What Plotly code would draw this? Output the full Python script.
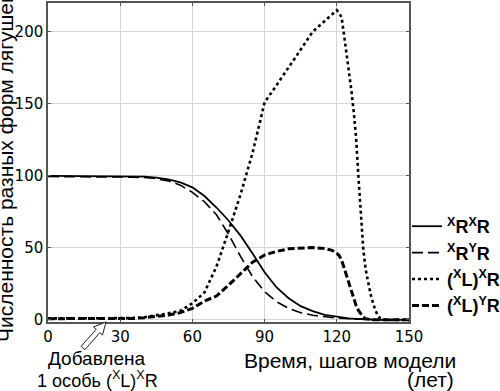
import plotly.graph_objects as go

# ---- data ----
years = [0, 10, 20, 30, 35, 40, 45, 50, 55, 60, 65, 70, 75, 80, 85, 90, 95, 100, 105, 110,
         115, 118, 120, 121, 122, 123, 124, 125, 126, 127, 128, 129, 130, 131, 132, 133,
         134, 135, 136, 137, 138, 139, 140, 145, 150]

xr_xr = [100, 100, 100, 100, 99.8, 99.5, 98.8, 97.5, 95.5, 92, 86, 78, 69, 58.5, 46, 33,
         22.5, 15, 9.5, 6, 3.5, 2.6, 2, 1.8, 1.6, 1.4, 1.2, 1, 0.9, 0.8, 0.6, 0.5, 0.4,
         0.35, 0.3, 0.25, 0.2, 0.15, 0.1, 0.05, 0, 0, 0, 0, 0]

xr_yr = [99.5, 99.5, 99.5, 99.3, 99.1, 98.8, 98, 96.5, 93.5, 88.5, 82, 73, 59.5, 44, 30,
         19.5, 12.5, 8, 5, 3.2, 2, 1.5, 1.2, 1.1, 1, 0.9, 0.8, 0.6, 0.55, 0.5, 0.4, 0.35,
         0.3, 0.25, 0.2, 0.15, 0.1, 0.05, 0, 0, 0, 0, 0, 0, 0]

xl_xr = [1, 1, 1, 1, 1.2, 1.8, 3, 4.5, 6.3, 11.5, 19, 37, 61.5, 87, 116, 151, 163, 175.5,
         188, 200, 207.5, 212, 215, 213, 210, 198, 186, 175, 160, 145, 127, 99, 71, 49,
         35, 25, 18, 12, 6.7, 3.2, 1.2, 0.4, 0, 0, 0]

xl_yr = [0.8, 0.8, 0.8, 0.9, 1, 1.5, 2.3, 3.3, 5, 8, 13, 16.5, 24, 32, 40, 45, 47.5, 49.3,
         50, 50.2, 49.6, 48.3, 46.3, 44.5, 41.5, 36, 30.5, 25, 19.5, 14.5, 10, 6.5, 3.8,
         2, 0.7, 0.3, 0, 0, 0, 0, 0, 0, 0, 0, 0]

series_names = ["<b><sup>X</sup>R<sup>X</sup>R</b>",
                "<b><sup>X</sup>R<sup>Y</sup>R</b>",
                "<b>(<sup>X</sup>L)<sup>X</sup>R</b>",
                "<b>(<sup>X</sup>L)<sup>Y</sup>R</b>"]

x_ticks = [0, 30, 60, 90, 120, 150]
y_ticks = [0, 50, 100, 150, 200]

# ---- styles ----
styles = [dict(width=1.8, dash="solid"),
          dict(width=1.6, dash="11px,5px"),
          dict(width=2.6, dash="3px,3px"),
          dict(width=3.0, dash="7px,3px")]

W, H = 500, 391
ML, MR, MT, MB = 48, 91, 3, 69
PW, PH = W - ML - MR, H - MT - MB

fig = go.Figure()
for name, vals, st in zip(series_names, [xr_xr, xr_yr, xl_xr, xl_yr], styles):
    fig.add_trace(go.Scatter(x=years, y=vals, mode="lines", name=name,
                             line=dict(color="black", width=st["width"], dash=st["dash"])))

def px2paper(px, py):
    return (px - ML) / PW, (H - MB - py) / PH

# hollow arrow (decoration) pointing to the time when the frog was added
arrow_px = [(106, 322), (102.5, 335), (99.9, 332.6), (84.9, 349.7), (81.1, 346.3),
            (96.2, 329.3), (93.5, 327.0)]
pts = [px2paper(a, b) for a, b in arrow_px]
path = "M " + " L ".join(f"{a:.4f},{b:.4f}" for a, b in pts) + " Z"

font_main = "Liberation Sans, Arial, sans-serif"

fig.update_layout(
    width=W, height=H,
    margin=dict(l=ML, r=MR, t=MT, b=MB, autoexpand=False),
    plot_bgcolor="white", paper_bgcolor="white",
    showlegend=True,
    legend=dict(x=(407 - ML) / PW, y=px2paper(0, 208)[1], xanchor="left", yanchor="top",
                font=dict(family=font_main, size=18, color="black"),
                itemwidth=30, bgcolor="rgba(0,0,0,0)", borderwidth=0,
                tracegroupgap=0),
    xaxis=dict(range=[0, 150], tickvals=x_ticks, ticktext=[str(v) for v in x_ticks],
               showgrid=True, gridcolor="#d6d6d6", gridwidth=1,
               showline=True, linecolor="#555555", linewidth=1.5, mirror="ticks",
               ticks="inside", ticklen=3, tickcolor="#555555",
               tickfont=dict(family="DejaVu Sans", size=15, color="black"),
               zeroline=False),
    yaxis=dict(range=[-1.5, 220], tickvals=y_ticks, ticktext=[str(v) for v in y_ticks],
               showgrid=True, gridcolor="#d6d6d6", gridwidth=1,
               showline=True, linecolor="#555555", linewidth=1.5, mirror="ticks",
               ticks="inside", ticklen=3, tickcolor="#555555",
               tickfont=dict(family="DejaVu Sans", size=15, color="black"),
               zeroline=False),
    shapes=[dict(type="path", xref="paper", yref="paper", path=path,
                 line=dict(color="#222222", width=1), fillcolor="white", layer="above")],
)

ax0, ay0 = px2paper(6, 168)
fig.add_annotation(text="Численность разных форм лягушек", xref="paper", yref="paper",
                   x=ax0, y=ay0, xanchor="center", yanchor="middle", textangle=-90,
                   showarrow=False, font=dict(family=font_main, size=21, color="black"))
bx, by = px2paper(96, 358)
fig.add_annotation(text="Добавлена", xref="paper", yref="paper", x=bx, y=by,
                   xanchor="center", yanchor="middle", showarrow=False,
                   font=dict(family=font_main, size=19, color="black"))
cx, cy = px2paper(97, 379)
fig.add_annotation(text="1 особь (<sup>X</sup>L)<sup>X</sup>R", xref="paper", yref="paper",
                   x=cx, y=cy, xanchor="center", yanchor="middle", showarrow=False,
                   font=dict(family=font_main, size=18, color="black"))
dx, dy = px2paper(458, 360)
fig.add_annotation(text="Время, шагов модели", xref="paper", yref="paper", x=dx, y=dy,
                   xanchor="right", yanchor="middle", showarrow=False,
                   font=dict(family=font_main, size=21, color="black"))
ex, ey = px2paper(456, 379)
fig.add_annotation(text="(лет)", xref="paper", yref="paper", x=ex, y=ey,
                   xanchor="right", yanchor="middle", showarrow=False,
                   font=dict(family=font_main, size=21, color="black"))

fig.write_html("out.html", config={"responsive": False, "displayModeBar": False},
               post_script="document.body.style.margin='0';"
                           "document.body.style.overflow='hidden';")
